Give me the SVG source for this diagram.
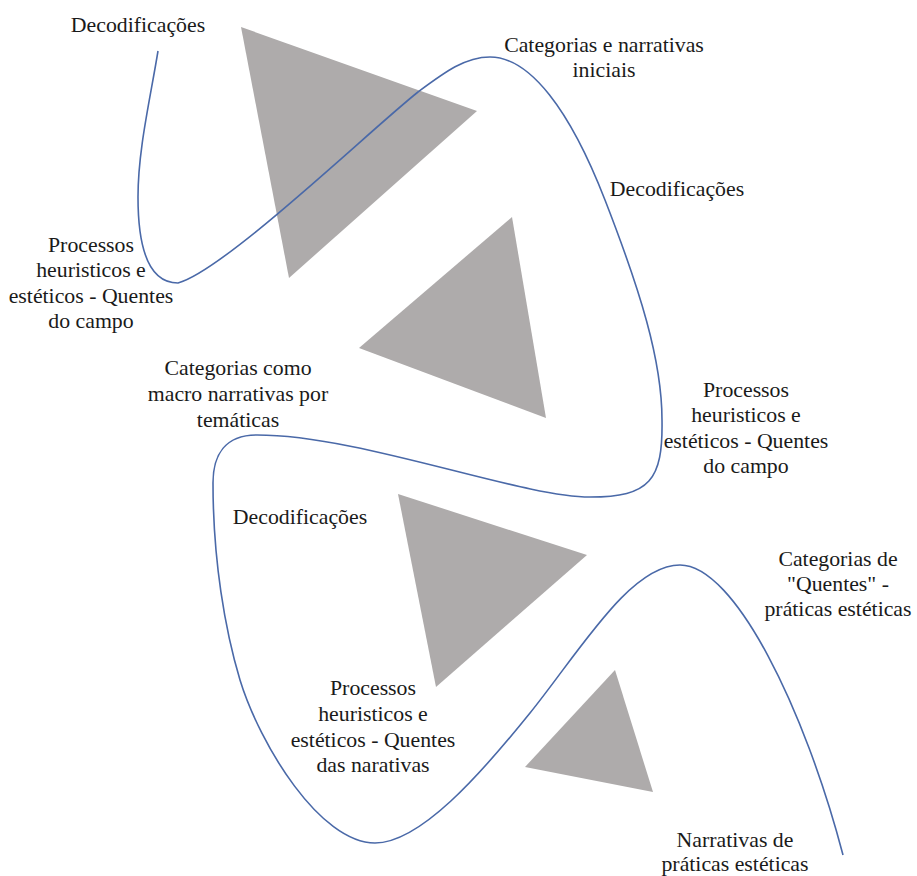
<svg xmlns="http://www.w3.org/2000/svg" width="917" height="876" viewBox="0 0 917 876">
<style>
.tri{fill:#aeabab;stroke:none}
.curve{fill:none;stroke:#4a69a8;stroke-width:1.6}
.lbl{font-size:21.8px;fill:#1a1a1a;text-anchor:middle}
</style>
<rect width="917" height="876" fill="#ffffff"/>
<g id="triangles">
<polygon id="tri1" class="tri" points="241,27 477,111 289,278"/>
<polygon id="tri2" class="tri" points="512,217 546,418 359,348"/>
<polygon id="tri3" class="tri" points="398,494 587,555 436,687"/>
<polygon id="tri4" class="tri" points="615,670 653,792 525,767"/>
</g>
<g id="connectors">
<path class="curve" d="M158,51 C150,100 138,150 138,197 C138,250 150,283 178,283 C225,270 370,130 418,92 C445,72 465,57 490,57 C530,57 570,110 605,200 C640,290 662,360 662,420 C663,480 650,497 590,497 C520,497 360,435 257,435 C225,435 213,455 213,483 C213,560 225,630 240,680 C260,745 320,843 375,843 C420,843 480,775 530,713 C580,651 630,565 680,565 C735,565 805,710 843,855"/>
</g>
<g class="lbl" font-family="'Liberation Serif', serif">
<g id="label-decod-1"><text x="138" y="32">Decodificações</text></g>
<g id="label-cat-iniciais"><text x="604" y="52">Categorias e narrativas</text><text x="604" y="77">iniciais</text></g>
<g id="label-decod-2"><text x="677" y="196">Decodificações</text></g>
<g id="label-proc-1"><text x="91" y="252">Processos</text><text x="91" y="277">heuristicos e</text><text x="91" y="303">estéticos - Quentes</text><text x="91" y="328">do campo</text></g>
<g id="label-cat-macro"><text x="238" y="375">Categorias como</text><text x="238" y="401">macro narrativas por</text><text x="238" y="427">temáticas</text></g>
<g id="label-proc-2"><text x="746" y="397">Processos</text><text x="746" y="422">heuristicos e</text><text x="746" y="448">estéticos - Quentes</text><text x="746" y="473">do campo</text></g>
<g id="label-decod-3"><text x="300" y="524">Decodificações</text></g>
<g id="label-cat-quentes"><text x="838" y="566">Categorias de</text><text x="838" y="591">"Quentes" -</text><text x="838" y="616">práticas estéticas</text></g>
<g id="label-proc-3"><text x="373" y="695">Processos</text><text x="373" y="721">heuristicos e</text><text x="373" y="747">estéticos - Quentes</text><text x="373" y="772">das narativas</text></g>
<g id="label-narr"><text x="735" y="847">Narrativas de</text><text x="735" y="871">práticas estéticas</text></g>
</g>
</svg>
